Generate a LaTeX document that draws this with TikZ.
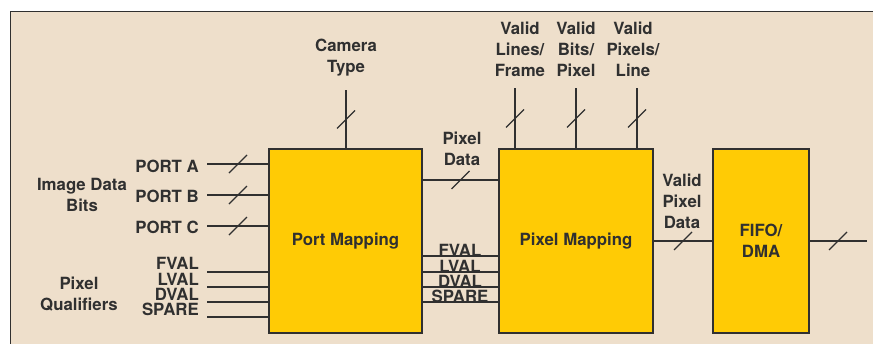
\documentclass[tikz,border=0pt]{standalone}
\usepackage{fontspec}
\setmainfont{TeX Gyre Heros}
\usetikzlibrary{positioning,calc}
\definecolor{bgbeige}{HTML}{EEDFCB}
\definecolor{boxyellow}{HTML}{FFCB05}
\definecolor{inkgray}{HTML}{303030}

\begin{document}
\begin{tikzpicture}[
            x=1pt, y=-1pt,
            font=\fontsize{16.8}{21}\selectfont\bfseries,
            every node/.style={text=inkgray},
            block/.style={draw=inkgray, line width=1.4pt, fill=boxyellow, align=center, inner sep=0pt, outer sep=0pt, minimum height=184pt},
            lbl/.style={align=center, inner sep=0pt},
            wire/.style={draw=inkgray, line width=1.4pt},
            slash/.pic={\draw[inkgray, line width=1.2pt] (-9,9) -- (9,-9);}
        ]
            \useasboundingbox (0,0) rectangle (873,343);
            \fill[bgbeige] (10,11) rectangle (880,350);
            \draw[inkgray, line width=0.8pt] (10,350) -- (10,11) -- (880,11);

            \node[block, anchor=north west, minimum width=153pt] (portmap) at (269,149) {Port Mapping};
            \node[block, right=77pt of portmap, minimum width=154pt] (pixmap) {Pixel Mapping};
            \node[block, right=60pt of pixmap, minimum width=96pt] (fifo) {FIFO/\\DMA};

            \node[lbl] (imgbits) at (82,194.5) {Image Data\\Bits};
            \node[lbl] (qualif) at (79,294) {Pixel\\Qualifiers};
            \node[lbl, anchor=east] (porta) at (199,166) {PORT A};
            \node[lbl, anchor=east] (portb) at (199,196) {PORT B};
            \node[lbl, anchor=east] (portc) at (199,227) {PORT C};
            \coordinate (ina) at (207,164);
            \coordinate (inb) at (207,195);
            \coordinate (inc) at (207,226);
            \draw[wire] (ina) -- pic[pos=.5]{slash} (ina -| portmap.west);
            \draw[wire] (inb) -- pic[pos=.5]{slash} (inb -| portmap.west);
            \draw[wire] (inc) -- pic[pos=.5]{slash} (inc -| portmap.west);

            \foreach \sig/\ly/\wy [count=\i] in {FVAL/263/272, LVAL/279/287, DVAL/294/302, SPARE/309/317} {
                \node[lbl, anchor=east] (qin\i) at (199,\ly) {\sig};
                \coordinate (qw\i) at (207,\wy);
                \draw[wire] (qw\i) -- (qw\i -| portmap.west);
            }
            \foreach \sig/\wy [count=\i] in {FVAL/256, LVAL/272, DVAL/287, SPARE/302} {
                \coordinate (qm\i) at (422,\wy);
                \draw[wire] (qm\i) -- (qm\i -| pixmap.west);
                \node[lbl] (qmid\i) at (460,\wy-5.5) {\sig};
            }

            \node[lbl] (camlbl) at (346,57.5) {Camera\\Type};
            \coordinate (camtop) at (346,90);
            \draw[wire] (camtop) -- pic[pos=.5]{slash} (camtop |- portmap.north);

            \node[lbl] (pixdata) at (462,148.5) {Pixel\\Data};
            \coordinate (pd) at (422,180);
            \draw[wire] (pd) -- pic[pos=.5]{slash} (pd -| pixmap.west);

            \node[lbl] (vlines) at (520,49.5) {Valid\\Lines/\\Frame};
            \node[lbl] (vbits) at (576,49.5) {Valid\\Bits/\\Pixel};
            \node[lbl] (vpix) at (633,49.5) {Valid\\Pixels/\\Line};
            \coordinate (vl) at (515,88);
            \coordinate (vb) at (576,88);
            \coordinate (vp) at (637,88);
            \draw[wire] (vl) -- pic[pos=.5]{slash} (vl |- pixmap.north);
            \draw[wire] (vb) -- pic[pos=.5]{slash} (vb |- pixmap.north);
            \draw[wire] (vp) -- pic[pos=.5]{slash} (vp |- pixmap.north);

            \node[lbl] (vpdata) at (682,201) {Valid\\Pixel\\Data};
            \draw[wire] (pixmap.east) -- pic[pos=.5]{slash} (fifo.west);
            \coordinate (out) at (867,241);
            \draw[wire] (fifo.east) -- pic[pos=.5]{slash} (out);
        \end{tikzpicture}
\end{document}
